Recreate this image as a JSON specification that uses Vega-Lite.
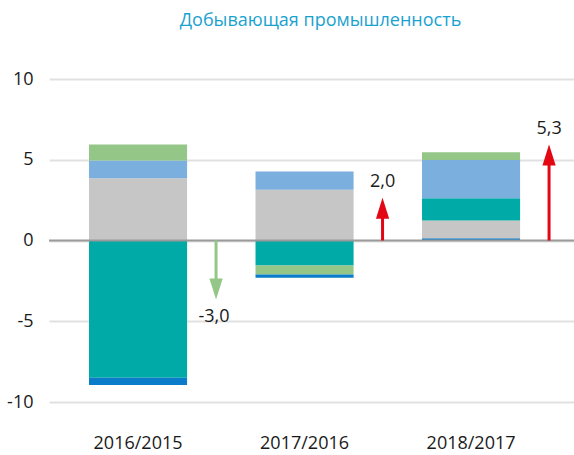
{
  "$schema": "https://vega.github.io/schema/vega-lite/v6.json",
  "width": 525,
  "height": 323,
  "autosize": "none",
  "padding": {"left": 49, "top": 79, "right": 0, "bottom": 53},
  "background": "#ffffff",
  "title": {"text": "Добывающая промышленность", "color": "#1AA2CF", "fontSize": 18, "font": "Open Sans", "fontWeight": "normal", "offset": 40, "dx": 9},
  "config": {"view": {"stroke": null}, "font": "Open Sans"},
  "datasets": {
    "parts": [
      {"period": "2016/2015", "component": "Фактор 1", "value": 3.85, "ord": 1},
      {"period": "2016/2015", "component": "Фактор 3", "value": 1.1, "ord": 3},
      {"period": "2016/2015", "component": "Фактор 4", "value": 1.0, "ord": 4},
      {"period": "2016/2015", "component": "Фактор 2", "value": -8.5, "ord": 2},
      {"period": "2016/2015", "component": "Фактор 5", "value": -0.45, "ord": 5},
      {"period": "2017/2016", "component": "Фактор 1", "value": 3.15, "ord": 1},
      {"period": "2017/2016", "component": "Фактор 3", "value": 1.12, "ord": 3},
      {"period": "2017/2016", "component": "Фактор 2", "value": -1.55, "ord": 2},
      {"period": "2017/2016", "component": "Фактор 4", "value": -0.55, "ord": 4},
      {"period": "2017/2016", "component": "Фактор 5", "value": -0.2, "ord": 5},
      {"period": "2018/2017", "component": "Фактор 5", "value": 0.14, "ord": 0},
      {"period": "2018/2017", "component": "Фактор 1", "value": 1.1, "ord": 1},
      {"period": "2018/2017", "component": "Фактор 2", "value": 1.37, "ord": 2},
      {"period": "2018/2017", "component": "Фактор 3", "value": 2.38, "ord": 3},
      {"period": "2018/2017", "component": "Фактор 4", "value": 0.48, "ord": 4}
    ],
    "totals": [
      {"period": "2016/2015", "total": -3.0, "label": "-3,0"},
      {"period": "2017/2016", "total": 2.0, "label": "2,0"},
      {"period": "2018/2017", "total": 5.3, "label": "5,3"}
    ]
  },
  "data": {"name": "parts"},
  "encoding": {
    "x": {
      "field": "period", "type": "nominal", "sort": null,
      "scale": {"paddingInner": 0.411, "paddingOuter": 0.282, "align": 0.426},
      "axis": {"title": null, "domain": false, "ticks": false, "grid": false, "labelAngle": 0, "labelPadding": 32, "labelFontSize": 18, "labelColor": "#1a1a1a"}
    }
  },
  "layer": [
    {
      "mark": {"type": "bar"},
      "encoding": {
        "y": {
          "field": "value", "type": "quantitative", "stack": "zero",
          "scale": {"domain": [-10, 10], "nice": false, "zero": false},
          "axis": {"title": null, "values": [-10, -5, 0, 5, 10], "domain": false, "ticks": false, "labelPadding": 16, "labelFontSize": 18, "labelColor": "#1a1a1a", "gridColor": "#E1E1E1", "gridWidth": 2, "labelExpr": "'' + datum.value"}
        },
        "color": {
          "field": "component", "type": "nominal", "legend": null,
          "scale": {"domain": ["Фактор 1", "Фактор 2", "Фактор 3", "Фактор 4", "Фактор 5"], "range": ["#C6C6C6", "#00AAA6", "#7BAFDE", "#93C687", "#0A7CC9"]}
        },
        "order": {"field": "ord", "type": "quantitative"}
      }
    },
    {
      "data": {"values": [{}]},
      "mark": {"type": "rule", "color": "#9A9A9A", "strokeWidth": 2},
      "encoding": {"y": {"datum": 0}, "x": null}
    },
    {
      "data": {"name": "totals"},
      "mark": {"type": "rule", "strokeWidth": 3, "xOffset": 78},
      "encoding": {
        "y": {"field": "total", "type": "quantitative"},
        "y2": {"datum": 0},
        "color": {"condition": {"test": "datum.total < 0", "value": "#93C687"}, "value": "#E30613"}
      }
    },
    {
      "data": {"name": "totals"},
      "transform": [{"filter": "datum.total < 0"}],
      "mark": {"type": "point", "filled": true, "opacity": 1, "size": 441, "xOffset": 78, "shape": "M-0.63,-1L0,1L0.63,-1Z", "color": "#93C687"},
      "encoding": {"y": {"field": "total", "type": "quantitative"}}
    },
    {
      "data": {"name": "totals"},
      "transform": [{"filter": "datum.total >= 0"}],
      "mark": {"type": "point", "filled": true, "opacity": 1, "size": 441, "xOffset": 78, "shape": "M-0.63,1L0,-1L0.63,1Z", "color": "#E30613"},
      "encoding": {"y": {"field": "total", "type": "quantitative"}}
    },
    {
      "data": {"name": "totals"},
      "transform": [{"filter": "datum.total < 0"}],
      "mark": {"type": "text", "fontSize": 18, "color": "#1a1a1a", "xOffset": 76, "dy": 28, "baseline": "middle"},
      "encoding": {"y": {"field": "total", "type": "quantitative"}, "text": {"field": "label"}}
    },
    {
      "data": {"name": "totals"},
      "transform": [{"filter": "datum.total >= 0"}],
      "mark": {"type": "text", "fontSize": 18, "color": "#1a1a1a", "xOffset": 78, "dy": -26, "baseline": "middle"},
      "encoding": {"y": {"field": "total", "type": "quantitative"}, "text": {"field": "label"}}
    }
  ]
}
